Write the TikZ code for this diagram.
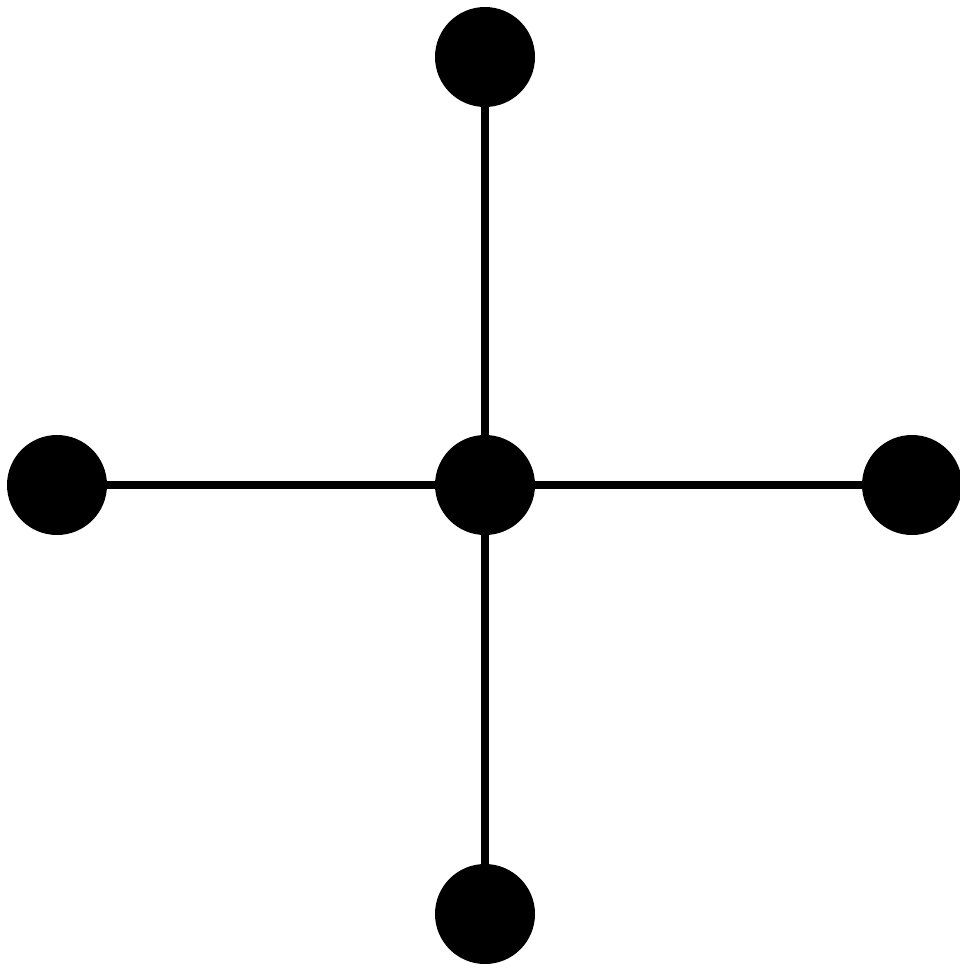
\documentclass[tikz,border=0pt]{standalone}
\begin{document}
\begin{tikzpicture}[x=1pt,y=-1pt,
  dot/.style={circle,fill=black,minimum size=100pt,inner sep=0pt},
  edge/.style={line width=8pt,black}]
\useasboundingbox (0,0) rectangle (960,969);
\node[dot] (c) at (485,485) {};
\node[dot] (t) at (485,57) {};
\node[dot] (b) at (485,914) {};
\node[dot] (l) at (57,485) {};
\node[dot] (r) at (912,485) {};
\begin{scope}[on background layer/.style={}]
\end{scope}
\draw[edge] (c) -- (t);
\draw[edge] (c) -- (b);
\draw[edge] (c) -- (l);
\draw[edge] (c) -- (r);
\end{tikzpicture}
\end{document}
